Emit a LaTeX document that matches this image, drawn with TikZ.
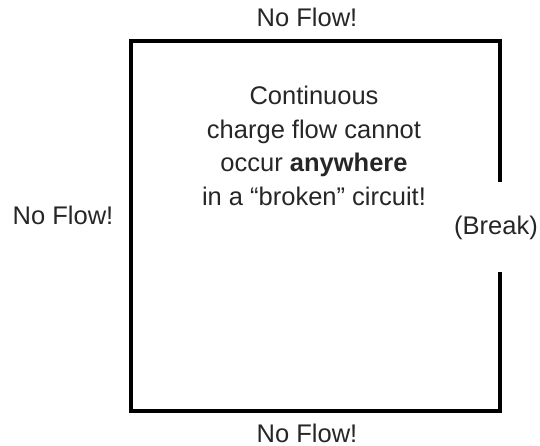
\documentclass[tikz,border=0pt]{standalone}
\usepackage{fontspec}
\setmainfont{Liberation Sans}
\begin{document}
\begin{tikzpicture}[x=1pt,y=-1pt,
  wire/.style={line width=4pt,line join=miter,black},
  lbl/.style={font=\fontsize{25.5}{33.5}\selectfont,inner sep=0pt,anchor=base,text=black!85}]
\useasboundingbox (0,0) rectangle (540,446);
\coordinate (tl) at (131,41);
\coordinate (tr) at (500,41);
\coordinate (bl) at (131,411);
\coordinate (br) at (500,411);
\coordinate (b1) at (500,182);
\coordinate (b2) at (500,272);
\draw[wire] (b1) -- (tr) -- (tl) -- (bl) -- (br) -- (b2);
\node[lbl] (top) at (307,27) {No Flow!};
\node[lbl] (bot) at (307,442) {No Flow!};
\node[lbl] (left) at (63,225) {No Flow!};
\node[lbl] (brk) at (496,234) {(Break)};
\node[lbl,align=center,anchor=north] (msg) at (314,86) {Continuous\\charge flow cannot\\occur \textbf{anywhere}\\in a “broken” circuit!};
\end{tikzpicture}
\end{document}
